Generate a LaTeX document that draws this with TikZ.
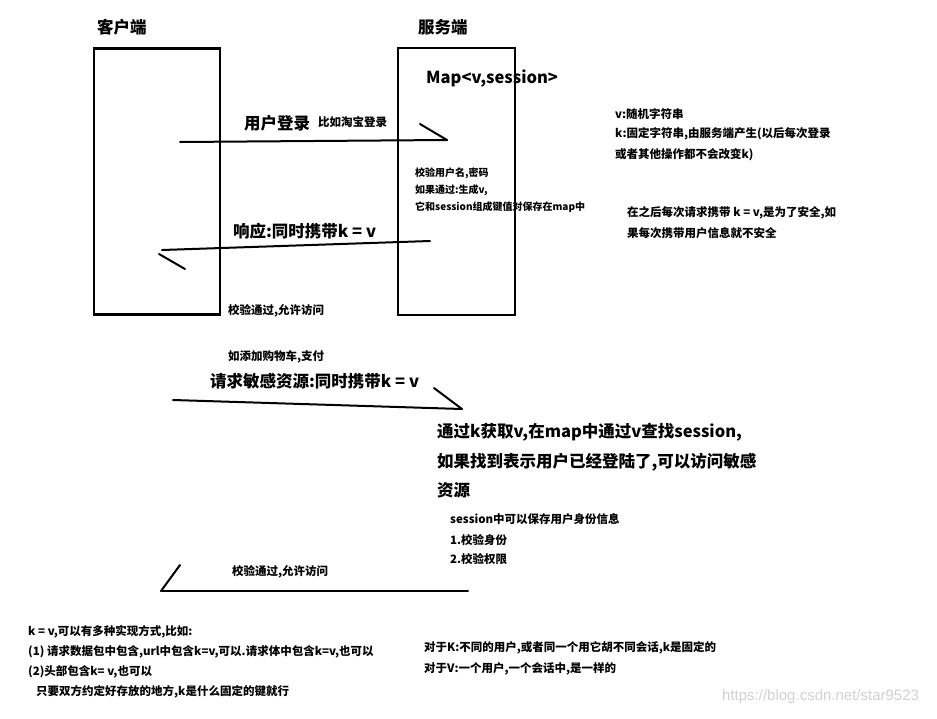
\documentclass[tikz,border=0pt]{standalone}
\usepackage{fontspec}
\setmainfont{Noto Sans CJK SC}
\newfontfamily\wmfont{Liberation Sans}
\definecolor{wm}{HTML}{D2D2D2}
\begin{document}
\begin{tikzpicture}[x=1pt,y=-1pt,
  lbl/.style={anchor=west,inner sep=0pt,font=\bfseries\fontsize{11.5}{13}\selectfont},
  note/.style={anchor=west,inner sep=0pt,font=\bfseries\fontsize{10}{12}\selectfont},
  big/.style={anchor=west,inner sep=0pt,font=\bfseries\fontsize{16.5}{19}\selectfont},
  huge/.style={anchor=west,inner sep=0pt,font=\bfseries\fontsize{16.5}{20}\selectfont},
  ln/.style={line width=2pt,line cap=round},
  box/.style={draw,line width=2.6pt,inner sep=0pt,outer sep=0pt}]
\path[use as bounding box,fill=white] (0,0) rectangle (937,718);

% boxes
\node[box,minimum width=126pt,minimum height=266pt] (client) at (157,181.5) {};
\node[box,minimum width=117pt,minimum height=267pt] (server) at (456.5,181.5) {};

% titles
\node[big] (tclient) at (97,27) {客户端};
\node[big] (tserver) at (418,27) {服务端};
\node[big] (map) at (426,79) {Map<v,session>};

% arrow 1: login
\coordinate (a1s) at (180,142);
\coordinate (a1e) at (447,140);
\coordinate (a1b) at (420,124);
\draw[ln] (a1s) -- (a1e);
\draw[ln] (a1b) -- (a1e);
\node[big] (login) at (244,123) {用户登录};
\node[lbl] (taobao) at (318,122) {比如淘宝登录};

% server notes
\node[note] (s1) at (415,173) {校验用户名,密码};
\node[note] (s2) at (415,190) {如果通过:生成v,};
\node[note] (s3) at (415,207) {它和session组成键值对保存在map中};

% arrow 2: response
\coordinate (a2s) at (430,241);
\coordinate (a2e) at (162,250);
\coordinate (a2b1) at (159,254);
\coordinate (a2b2) at (185,269);
\draw[ln] (a2s) -- (a2e);
\draw[ln] (a2b1) -- (a2b2);
\node[big] (resp) at (233,231) {响应:同时携带k = v};
\node[lbl] (ok1) at (228,311) {校验通过,允许访问};

% right notes
\node[lbl] (r1) at (615,114) {v:随机字符串};
\node[lbl] (r2) at (615,134) {k:固定字符串,由服务端产生(以后每次登录};
\node[lbl] (r3) at (615,155) {或者其他操作都不会改变k)};
\node[lbl] (r4) at (627,213) {在之后每次请求携带 k = v,是为了安全,如};
\node[lbl] (r5) at (627,233) {果每次携带用户信息就不安全};

% arrow 3: request
\node[lbl] (cart) at (228,357) {如添加购物车,支付};
\node[big] (req) at (210,381) {请求敏感资源:同时携带k = v};
\coordinate (a3s) at (173,400);
\coordinate (a3e) at (462,409);
\coordinate (a3b) at (434,388);
\draw[ln] (a3s) -- (a3e);
\draw[ln] (a3b) -- (a3e);

% big explanation
\node[huge] (h1) at (437,432) {通过k获取v,在map中通过v查找session,};
\node[huge] (h2) at (437,462) {如果找到表示用户已经登陆了,可以访问敏感};
\node[huge] (h3) at (437,490) {资源};
\node[lbl] (p1) at (450,519) {session中可以保存用户身份信息};
\node[lbl] (p2) at (450,540) {1.校验身份};
\node[lbl] (p3) at (450,559) {2.校验权限};

% arrow 4
\coordinate (a4s) at (468,591);
\coordinate (a4e) at (161,591);
\coordinate (a4b) at (180,565);
\draw[ln] (a4s) -- (a4e);
\draw[ln] (a4e) -- (a4b);
\node[lbl] (ok2) at (232,572) {校验通过,允许访问};

% bottom notes
\node[lbl] (b1) at (28,632) {k = v,可以有多种实现方式,比如:};
\node[lbl] (b2) at (28,652) {(1) 请求数据包中包含,url中包含k=v,可以.请求体中包含k=v,也可以};
\node[lbl] (b3) at (28,672) {(2)头部包含k= v,也可以};
\node[lbl] (b4) at (36,692) {只要双方约定好存放的地方,k是什么固定的键就行};

\node[lbl] (c1) at (424,648) {对于K:不同的用户,或者同一个用它胡不同会话,k是固定的};
\node[lbl] (c2) at (424,669) {对于V:一个用户,一个会话中,是一样的};

\node[anchor=west,inner sep=0pt,text=wm,font=\wmfont\fontsize{15}{17}\selectfont] (wmk) at (722,697) {https://blog.csdn.net/star9523};
\end{tikzpicture}
\end{document}
